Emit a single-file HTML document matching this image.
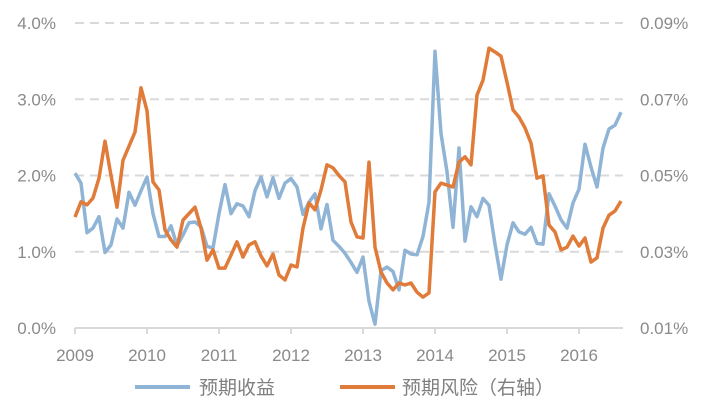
<!DOCTYPE html>
<html><head><meta charset="utf-8"><style>
body{margin:0;background:#fff}
svg text{font-family:"Liberation Sans","Noto Sans CJK SC",sans-serif;fill:#8a8a8a}
</style></head><body>
<svg width="708" height="411" id="c"></svg>
<script>
const leftTicks=["0.0%","1.0%","2.0%","3.0%","4.0%"];
const rightTicks=["0.01%","0.03%","0.05%","0.07%","0.09%"];
const years=["2009","2010","2011","2012","2013","2014","2015","2016"];
const ret=[2.03,1.9,1.25,1.31,1.46,0.99,1.09,1.43,1.31,1.78,1.61,1.8,1.98,1.5,1.2,1.2,1.34,1.08,1.22,1.38,1.39,1.33,1.07,1.05,1.5,1.88,1.5,1.63,1.6,1.46,1.8,1.98,1.72,1.97,1.7,1.9,1.96,1.85,1.49,1.65,1.76,1.3,1.62,1.15,1.07,0.98,0.86,0.73,0.93,0.35,0.05,0.75,0.8,0.74,0.5,1.02,0.97,0.96,1.2,1.65,3.63,2.55,2.05,1.32,2.36,1.14,1.59,1.46,1.7,1.61,1.1,0.64,1.09,1.38,1.26,1.23,1.32,1.11,1.1,1.76,1.6,1.42,1.31,1.64,1.82,2.41,2.11,1.85,2.36,2.61,2.66,2.83];
const risk=[0.0391,0.0431,0.0423,0.0441,0.0493,0.059,0.050,0.0417,0.054,0.0577,0.0614,0.073,0.067,0.0483,0.0462,0.0357,0.0331,0.0312,0.0383,0.040,0.0417,0.0362,0.0278,0.0305,0.0257,0.0257,0.0291,0.0326,0.0286,0.0318,0.0326,0.0289,0.0263,0.0294,0.0239,0.0226,0.0265,0.026,0.0362,0.0428,0.041,0.0462,0.0528,0.052,0.050,0.0483,0.0378,0.0339,0.0336,0.0535,0.0312,0.0247,0.0218,0.020,0.0218,0.0213,0.0218,0.0194,0.0181,0.0192,0.0457,0.048,0.0475,0.047,0.0535,0.0549,0.0528,0.0711,0.075,0.0834,0.0824,0.0813,0.0745,0.0672,0.0653,0.0625,0.0585,0.0493,0.0499,0.037,0.0352,0.0305,0.0312,0.0341,0.0315,0.0336,0.0273,0.0284,0.0362,0.0396,0.0407,0.0433];
const NS="http://www.w3.org/2000/svg",svg=document.getElementById('c');
const X0=75,X1=623,Y0=328,Y1=23;
const xs=i=>X0+i*6;
const yl=v=>Y0-(v/4)*(Y0-Y1);
const yr=v=>Y0-((v-0.01)/0.08)*(Y0-Y1);
function mk(t,a,txt){const e=document.createElementNS(NS,t);for(const k in a)e.setAttribute(k,a[k]);if(txt!=null)e.textContent=txt;svg.appendChild(e);return e;}
leftTicks.forEach((t,i)=>{const y=Y0-i*(Y0-Y1)/4;
 if(i>0){const g=mk('line',{x1:X0,x2:X1,y1:y,y2:y,stroke:'#d9d9d9','stroke-width':2,'stroke-dasharray':'9 6'});
 
 }
 const a=mk('text',{x:56,y:y+6,'text-anchor':'end','font-size':17},t);
 
 
 const b=mk('text',{x:640,y:y+6,'font-size':17},rightTicks[i]);
 
 });
const ax=mk('line',{x1:X0,x2:X1,y1:Y0,y2:Y0,stroke:'#d9d9d9','stroke-width':2});


years.forEach((t,i)=>{const x=X0+i*72;
 const tk=mk('line',{x1:x,x2:x,y1:Y0,y2:Y0+6,stroke:'#d9d9d9','stroke-width':2});
 
 
 const l=mk('text',{x:x,y:361,'text-anchor':'middle','font-size':17},t);
 
 });
const p1=mk('polyline',{points:ret.map((v,i)=>xs(i)+','+yl(v)).join(' '),fill:'none',stroke:'#8fb4d6','stroke-width':3.5,'stroke-linejoin':'round'});


const p2=mk('polyline',{points:risk.map((v,i)=>xs(i)+','+yr(v)).join(' '),fill:'none',stroke:'#e07b39','stroke-width':3.5,'stroke-linejoin':'round'});


const l1=mk('line',{x1:135,x2:190,y1:387,y2:387,stroke:'#8fb4d6','stroke-width':4});


const t1=mk('text',{x:199,y:394,'font-size':19,style:'fill:#7f7f7f'},'预期收益');


const l2=mk('line',{x1:340,x2:395,y1:387,y2:387,stroke:'#e07b39','stroke-width':4});


const t2=mk('text',{x:402,y:394,'font-size':19,style:'fill:#7f7f7f'},'预期风险（右轴）');


</script>
</body></html>
